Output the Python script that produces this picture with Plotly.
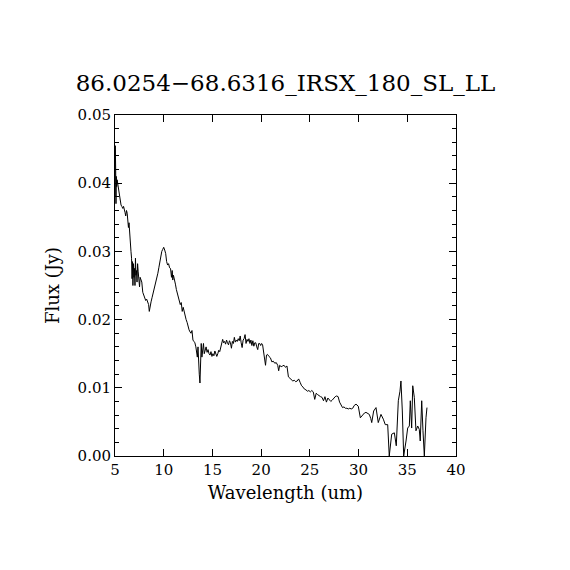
import plotly.graph_objects as go

# spectrum
wavelength = [
    5.00, 5.03, 5.07, 5.10, 5.13, 5.17, 5.22, 5.27, 5.33, 5.40,
    5.48, 5.55, 5.62, 5.70, 5.80, 5.88, 5.95, 6.03, 6.10, 6.18,
    6.25, 6.32, 6.38, 6.44, 6.50, 6.57, 6.64, 6.70, 6.75, 6.80,
    6.84, 6.90, 6.95, 7.00, 7.05, 7.10, 7.15, 7.20, 7.26, 7.32,
    7.38, 7.45, 7.52, 7.58, 7.65, 7.75, 7.85, 7.95, 8.05, 8.15,
    8.25, 8.35, 8.45, 8.52, 8.60, 8.70, 8.80, 8.90, 9.00, 9.10,
    9.20, 9.30, 9.40, 9.50, 9.60, 9.70, 9.80, 9.90, 10.00, 10.10,
    10.20, 10.30, 10.40, 10.50, 10.60, 10.70, 10.80, 10.87, 10.93, 11.00,
    11.10, 11.20, 11.30, 11.40, 11.50, 11.60, 11.70, 11.80, 11.90, 12.00,
    12.10, 12.20, 12.30, 12.40, 12.50, 12.60, 12.70, 12.80, 12.90, 13.00,
    13.10, 13.20, 13.30, 13.38, 13.45, 13.52, 13.58, 13.65, 13.72, 13.78,
    13.85, 13.92, 14.00, 14.08, 14.16, 14.25, 14.35, 14.45, 14.55, 14.65,
    14.75, 14.85, 14.95, 15.05, 15.15, 15.25, 15.35, 15.45, 15.55, 15.65,
    15.75, 15.85, 15.95, 16.05, 16.15, 16.25, 16.35, 16.45, 16.55, 16.65,
    16.75, 16.85, 16.95, 17.05, 17.15, 17.25, 17.35, 17.45, 17.55, 17.65,
    17.75, 17.85, 17.95, 18.05, 18.15, 18.25, 18.35, 18.45, 18.55, 18.65,
    18.75, 18.85, 18.95, 19.05, 19.15, 19.25, 19.35, 19.45, 19.55, 19.65,
    19.75, 19.85, 19.95, 20.05, 20.15, 20.25, 20.35, 20.45, 20.55, 20.65,
    20.80, 20.95, 21.10, 21.25, 21.40, 21.55, 21.70, 21.80, 21.90, 22.05,
    22.20, 22.35, 22.50, 22.65, 22.80, 22.95, 23.10, 23.25, 23.40, 23.55,
    23.70, 23.85, 24.00, 24.15, 24.30, 24.45, 24.60, 24.75, 24.90, 25.05,
    25.20, 25.35, 25.50, 25.65, 25.80, 25.95, 26.10, 26.25, 26.40, 26.55,
    26.70, 26.85, 27.00, 27.15, 27.30, 27.45, 27.60, 27.75, 27.90, 28.05,
    28.20, 28.35, 28.50, 28.65, 28.80, 28.95, 29.10, 29.25, 29.40, 29.55,
    29.74, 29.97, 30.18, 30.42, 30.60, 30.76, 30.95, 31.10, 31.25, 31.35,
    31.55, 31.79, 32.02, 32.15, 32.30, 32.54, 32.74, 32.99, 33.15, 33.40,
    33.67, 33.87, 34.08, 34.25, 34.35, 34.49, 34.63, 34.87, 35.04, 35.21,
    35.31, 35.45, 35.56, 35.72, 35.89, 36.07, 36.23, 36.33, 36.48, 36.61,
    36.75, 36.92, 37.02,
]
flux = [
    0.0380, 0.0455, 0.0420, 0.0370, 0.0410, 0.0395, 0.0405, 0.0400, 0.0390, 0.0385,
    0.0375, 0.0372, 0.0368, 0.0366, 0.0363, 0.0366, 0.0359, 0.0357, 0.0352, 0.0360,
    0.0356, 0.0347, 0.0335, 0.0342, 0.0325, 0.0315, 0.0300, 0.0290, 0.0260, 0.0285,
    0.0250, 0.0282, 0.0262, 0.0275, 0.0250, 0.0290, 0.0265, 0.0272, 0.0255, 0.0282,
    0.0270, 0.0262, 0.0248, 0.0262, 0.0258, 0.0255, 0.0240, 0.0235, 0.0232, 0.0228,
    0.0230, 0.0226, 0.0222, 0.0212, 0.0220, 0.0226, 0.0232, 0.0238, 0.0242, 0.0248,
    0.0253, 0.0262, 0.0268, 0.0276, 0.0285, 0.0296, 0.0300, 0.0303, 0.0306, 0.0302,
    0.0297, 0.0285, 0.0280, 0.0282, 0.0276, 0.0275, 0.0262, 0.0272, 0.0258, 0.0265,
    0.0255, 0.0252, 0.0244, 0.0238, 0.0232, 0.0228, 0.0222, 0.0225, 0.0212, 0.0218,
    0.0210, 0.0206, 0.0200, 0.0196, 0.0188, 0.0185, 0.0182, 0.0180, 0.0184, 0.0170,
    0.0168, 0.0166, 0.0160, 0.0152, 0.0145, 0.0160, 0.0130, 0.0120, 0.0107, 0.0150,
    0.0165, 0.0145, 0.0158, 0.0165, 0.0150, 0.0156, 0.0160, 0.0152, 0.0156, 0.0150,
    0.0148, 0.0153, 0.0146, 0.0150, 0.0147, 0.0154, 0.0151, 0.0146, 0.0150, 0.0155,
    0.0153, 0.0160, 0.0166, 0.0171, 0.0166, 0.0168, 0.0164, 0.0170, 0.0166, 0.0163,
    0.0169, 0.0166, 0.0158, 0.0168, 0.0165, 0.0174, 0.0167, 0.0170, 0.0168, 0.0172,
    0.0169, 0.0176, 0.0166, 0.0159, 0.0170, 0.0172, 0.0178, 0.0165, 0.0171, 0.0168,
    0.0172, 0.0165, 0.0170, 0.0162, 0.0169, 0.0161, 0.0166, 0.0166, 0.0160, 0.0156,
    0.0165, 0.0165, 0.0162, 0.0165, 0.0163, 0.0150, 0.0146, 0.0133, 0.0148, 0.0149,
    0.0146, 0.0144, 0.0138, 0.0139, 0.0136, 0.0137, 0.0133, 0.0125, 0.0133, 0.0131,
    0.0132, 0.0133, 0.0130, 0.0132, 0.0116, 0.0114, 0.0111, 0.0110, 0.0111, 0.0109,
    0.0110, 0.0113, 0.0108, 0.0103, 0.0101, 0.0098, 0.0097, 0.0095, 0.0096, 0.0094,
    0.0096, 0.0094, 0.0083, 0.0092, 0.0090, 0.0088, 0.0087, 0.0086, 0.0081, 0.0087,
    0.0079, 0.0085, 0.0083, 0.0080, 0.0082, 0.0085, 0.0087, 0.0088, 0.0087, 0.0079,
    0.0075, 0.0071, 0.0072, 0.0070, 0.0070, 0.0069, 0.0070, 0.0069, 0.0070, 0.0074,
    0.0076, 0.0073, 0.0056, 0.0061, 0.0063, 0.0064, 0.0062, 0.0061, 0.0055, 0.0049,
    0.0066, 0.0071, 0.0049, 0.0056, 0.0061, 0.0054, 0.0046, 0.0046, 0.0000, 0.0032,
    0.0034, 0.0015, 0.0081, 0.0095, 0.0110, 0.0066, 0.0000, 0.0022, 0.0041, 0.0044,
    0.0081, 0.0041, 0.0103, 0.0086, 0.0037, 0.0044, 0.0039, 0.0022, 0.0081, 0.0037,
    0.0000, 0.0056, 0.0071,
]

title = "86.0254\u221268.6316_IRSX_180_SL_LL"
font = "DejaVu Serif"

fig = go.Figure()
fig.add_trace(go.Scatter(x=wavelength, y=flux, mode="lines",
                         line=dict(color="black", width=1), showlegend=False))

fig.update_layout(
    width=570, height=570,
    margin=dict(l=107, r=122, t=107, b=122),
    paper_bgcolor="white", plot_bgcolor="white",
    font=dict(family=font, color="black", size=15),
    title=dict(text=title, xref="paper", x=0.5, xanchor="center", y=1 - 75 / 570,
               yanchor="middle", font=dict(family=font, size=23)),
)
fig.update_xaxes(range=[5, 40], dtick=5, tick0=5, showgrid=False, zeroline=False,
                 showline=True, linecolor="black", linewidth=1, mirror="ticks",
                 ticks="inside", ticklen=7, tickcolor="black",
                 title=dict(text="Wavelength (um)", standoff=8))
fig.update_yaxes(range=[0, 0.05], dtick=0.01, tick0=0, tickformat=".2f",
                 showgrid=False, zeroline=False,
                 showline=True, linecolor="black", linewidth=1, mirror="ticks",
                 ticks="inside", ticklen=7, tickcolor="black",
                 minor=dict(dtick=0.002, ticks="inside", ticklen=4, tickcolor="black"),
                 title=dict(text="Flux (Jy)", standoff=13))

fig.write_html("out.html")
